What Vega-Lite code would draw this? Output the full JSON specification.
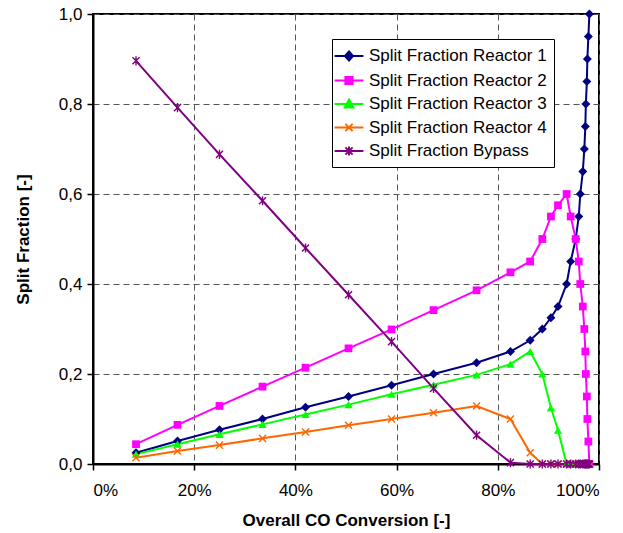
{
  "$schema": "https://vega.github.io/schema/vega-lite/v6.json",
  "width": 506,
  "height": 450,
  "autosize": {"type": "none"},
  "padding": {"left": 93, "top": 14, "right": 24, "bottom": 69},
  "background": "white",
  "data": {
    "values": [
      {"x": 0.085, "R1": 0.025, "R2": 0.044, "R3": 0.022, "R4": 0.014, "Bypass": 0.896},
      {"x": 0.167, "R1": 0.051, "R2": 0.087, "R3": 0.044, "R4": 0.029, "Bypass": 0.792},
      {"x": 0.250, "R1": 0.076, "R2": 0.129, "R3": 0.066, "R4": 0.042, "Bypass": 0.688},
      {"x": 0.335, "R1": 0.100, "R2": 0.172, "R3": 0.088, "R4": 0.057, "Bypass": 0.585},
      {"x": 0.420, "R1": 0.126, "R2": 0.214, "R3": 0.110, "R4": 0.071, "Bypass": 0.480},
      {"x": 0.505, "R1": 0.150, "R2": 0.257, "R3": 0.132, "R4": 0.086, "Bypass": 0.376},
      {"x": 0.590, "R1": 0.175, "R2": 0.299, "R3": 0.155, "R4": 0.100, "Bypass": 0.272},
      {"x": 0.673, "R1": 0.200, "R2": 0.342, "R3": 0.176, "R4": 0.114, "Bypass": 0.168},
      {"x": 0.758, "R1": 0.225, "R2": 0.386, "R3": 0.198, "R4": 0.129, "Bypass": 0.064},
      {"x": 0.825, "R1": 0.250, "R2": 0.426, "R3": 0.222, "R4": 0.100, "Bypass": 0.003},
      {"x": 0.864, "R1": 0.275, "R2": 0.450, "R3": 0.250, "R4": 0.025, "Bypass": 0.0},
      {"x": 0.888, "R1": 0.300, "R2": 0.500, "R3": 0.200, "R4": 0.0, "Bypass": 0.0},
      {"x": 0.905, "R1": 0.325, "R2": 0.550, "R3": 0.125, "R4": 0.0, "Bypass": 0.0},
      {"x": 0.919, "R1": 0.350, "R2": 0.575, "R3": 0.075, "R4": 0.0, "Bypass": 0.0},
      {"x": 0.936, "R1": 0.400, "R2": 0.600, "R3": 0.0, "R4": 0.0, "Bypass": 0.0},
      {"x": 0.944, "R1": 0.450, "R2": 0.550, "R3": 0.0, "R4": 0.0, "Bypass": 0.0},
      {"x": 0.954, "R1": 0.500, "R2": 0.500, "R3": 0.0, "R4": 0.0, "Bypass": 0.0},
      {"x": 0.960, "R1": 0.550, "R2": 0.450, "R3": 0.0, "R4": 0.0, "Bypass": 0.0},
      {"x": 0.963, "R1": 0.600, "R2": 0.400, "R3": 0.0, "R4": 0.0, "Bypass": 0.0},
      {"x": 0.968, "R1": 0.650, "R2": 0.350, "R3": 0.0, "R4": 0.0, "Bypass": 0.0},
      {"x": 0.971, "R1": 0.700, "R2": 0.300, "R3": 0.0, "R4": 0.0, "Bypass": 0.0},
      {"x": 0.973, "R1": 0.750, "R2": 0.250, "R3": 0.0, "R4": 0.0, "Bypass": 0.0},
      {"x": 0.974, "R1": 0.800, "R2": 0.200, "R3": 0.0, "R4": 0.0, "Bypass": 0.0},
      {"x": 0.976, "R1": 0.850, "R2": 0.150, "R3": 0.0, "R4": 0.0, "Bypass": 0.0},
      {"x": 0.977, "R1": 0.900, "R2": 0.100, "R3": 0.0, "R4": 0.0, "Bypass": 0.0},
      {"x": 0.979, "R1": 0.950, "R2": 0.050, "R3": 0.0, "R4": 0.0, "Bypass": 0.0},
      {"x": 0.981, "R1": 1.000, "R2": 0.000, "R3": 0.0, "R4": 0.0, "Bypass": 0.0}
    ]
  },
  "transform": [
    {"fold": ["R1", "R2", "R3", "R4", "Bypass"], "as": ["series", "y"]}
  ],
  "encoding": {
    "x": {
      "field": "x", "type": "quantitative",
      "scale": {"domain": [0, 1], "nice": false, "zero": false},
      "axis": {
        "title": "Overall CO Conversion [-]",
        "format": ".0%",
        "values": [0, 0.2, 0.4, 0.6, 0.8, 1.0],
        "labelPadding": 12,
        "titlePadding": 14
      }
    },
    "y": {
      "field": "y", "type": "quantitative",
      "scale": {"domain": [0, 1], "nice": false},
      "axis": {
        "title": "Split Fraction [-]",
        "values": [0, 0.2, 0.4, 0.6, 0.8, 1.0],
        "labelExpr": "replace(format(datum.value, '.1f'), '.', ',')",
        "labelPadding": 5,
        "titlePadding": 26
      }
    },
    "color": {
      "field": "series", "type": "nominal",
      "scale": {"domain": ["R1", "R2", "R3", "R4", "Bypass"], "range": ["#000080", "#FF00FF", "#00FF00", "#FF6600", "#800080"]},
      "legend": {
        "title": null,
        "orient": "none",
        "legendX": 239,
        "legendY": 25,
        "symbolSize": 324,
        "labelExpr": "datum.label == 'Bypass' ? 'Split Fraction Bypass' : 'Split Fraction Reactor ' + slice(datum.label, 1)",
        "encode": {
          "symbols": {
            "update": {
              "shape": {"signal": "datum.value == 'R1' ? 'M-1.6,0H1.6M0,-0.5L0.45,0L0,0.5L-0.45,0Z' : datum.value == 'R2' ? 'M-1.6,0H1.6M-0.4,-0.4H0.4V0.4H-0.4Z' : datum.value == 'R3' ? 'M-1.6,0H1.6M0,-0.5L0.47,0.38H-0.47Z' : datum.value == 'R4' ? 'M-1.6,0H1.6M-0.4,-0.4L0.4,0.4M-0.4,0.4L0.4,-0.4' : 'M-1.6,0H1.6M-0.4,-0.4L0.4,0.4M-0.4,0.4L0.4,-0.4M0,-0.5V0.5'"},
              "fill": {"signal": "datum.value == 'R1' ? '#000080' : datum.value == 'R2' ? '#FF00FF' : datum.value == 'R3' ? '#00FF00' : datum.value == 'R4' ? '#FF6600' : '#800080'"},
              "stroke": {"signal": "datum.value == 'R1' ? '#000080' : datum.value == 'R2' ? '#FF00FF' : datum.value == 'R3' ? '#00FF00' : datum.value == 'R4' ? '#FF6600' : '#800080'"},
              "strokeWidth": {"value": 2},
              "size": {"value": 324},
              "opacity": {"value": 1},
              "fillOpacity": {"value": 1},
              "strokeOpacity": {"value": 1}
            }
          }
        }
      }
    }
  },
  "layer": [
    {
      "mark": {"type": "line", "strokeWidth": 2},
      "encoding": {"detail": {"field": "series"}}
    },
    {
      "transform": [{"filter": "datum.series == 'R1'"}],
      "mark": {"type": "point", "shape": "diamond", "filled": true, "size": 80, "opacity": 1}
    },
    {
      "transform": [{"filter": "datum.series == 'R2'"}],
      "mark": {"type": "point", "shape": "square", "filled": true, "size": 60, "opacity": 1}
    },
    {
      "transform": [{"filter": "datum.series == 'R3'"}],
      "mark": {"type": "point", "shape": "triangle-up", "filled": true, "size": 70, "opacity": 1}
    },
    {
      "transform": [{"filter": "datum.series == 'R4'"}],
      "mark": {"type": "point", "shape": "M-1,-1L1,1M-1,1L1,-1", "filled": false, "size": 50, "strokeWidth": 1.4, "opacity": 1}
    },
    {
      "transform": [{"filter": "datum.series == 'Bypass'"}],
      "mark": {"type": "point", "shape": "M-1,-1L1,1M-1,1L1,-1M0,-1.3V1.3", "filled": false, "size": 50, "strokeWidth": 1.4, "opacity": 1}
    }
  ],
  "config": {
    "font": "Liberation Sans",
    "view": {"stroke": "black", "strokeWidth": 2},
    "axis": {
      "labelFont": "Liberation Sans",
      "labelFontSize": 17,
      "labelColor": "black",
      "titleFont": "Liberation Sans",
      "titleFontSize": 17,
      "titleFontWeight": "bold",
      "titleColor": "black",
      "domainColor": "black",
      "domainWidth": 2,
      "tickColor": "black",
      "tickWidth": 1.5,
      "tickSize": 6,
      "grid": true,
      "gridColor": "#555555",
      "gridDash": [6, 4],
      "gridWidth": 1
    },
    "legend": {
      "labelFont": "Liberation Sans",
      "labelFontSize": 17,
      "labelColor": "black",
      "labelOffset": 10,
      "labelLimit": 300,
      "strokeColor": "black",
      "fillColor": "white",
      "padding": 7,
      "rowPadding": 5.5,
      "symbolStrokeWidth": 2
    }
  }
}
